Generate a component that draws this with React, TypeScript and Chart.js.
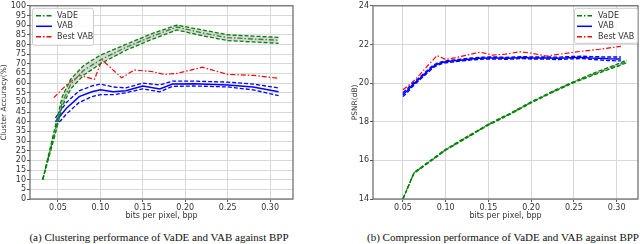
import React, { useEffect, useRef } from 'react';
import { Chart, registerables } from 'chart.js';
Chart.register(...registerables);

// ---------- ticks ----------
const xTicks = [0.05, 0.1, 0.15, 0.2, 0.25, 0.3];
const accTicks = [0, 5, 10, 15, 20, 25, 30, 35, 40, 45, 50, 55, 60, 65, 70, 75, 80, 85, 90, 95, 100];
const psnrTicks = [14, 16, 18, 20, 22, 24];

// ---------- (a) clustering accuracy ----------
const vadeAccX = [0.032, 0.047, 0.055, 0.065, 0.08, 0.1, 0.13, 0.16, 0.19, 0.22, 0.25, 0.28, 0.31];
const vadeAccMean = [10, 36, 50, 59.5, 66.5, 72, 78.5, 84, 89, 86, 83.5, 82.8, 82.2];
const vadeAccUpper = [10, 38, 53, 62, 69, 74.5, 80, 85.5, 90, 87.5, 85, 84.3, 83.7];
const vadeAccLower = [10, 34, 48, 57, 64, 70, 77, 82.5, 87.5, 84.5, 82, 81.3, 80.6];

const vabAccX = [0.047, 0.06, 0.075, 0.09, 0.1, 0.115, 0.13, 0.15, 0.17, 0.185, 0.21, 0.25, 0.28, 0.31];
const vabAccMean = [40, 47, 53, 55.5, 56.5, 55.5, 56, 58.5, 57, 59.5, 59.7, 59, 58, 55.5];
const vabAccUpper = [42, 50, 56, 58.5, 59.5, 58, 57.5, 60, 59, 61, 61, 60.5, 59.5, 57.5];
const vabAccLower = [37.5, 44, 50, 53, 54, 54, 55, 57, 55.5, 58.3, 58.5, 58, 56.5, 53.5];

const bestAccX = [0.045, 0.06, 0.075, 0.093, 0.102, 0.125, 0.14, 0.16, 0.175, 0.19, 0.22, 0.25, 0.28, 0.31];
const bestAccY = [52.5, 59, 64, 62, 72, 62.7, 66.8, 66, 64.5, 65, 68.2, 64.5, 64, 62.5];

// ---------- (b) compression PSNR ----------
const vadePsnrX = [0.05, 0.063, 0.08, 0.1, 0.125, 0.15, 0.175, 0.2, 0.225, 0.25, 0.275, 0.3, 0.312];
const vadePsnrMean = [14, 15.35, 15.9, 16.55, 17.2, 17.85, 18.4, 19.0, 19.55, 20.05, 20.5, 20.9, 21.12];
const vadePsnrUpper = [14, 15.38, 15.93, 16.58, 17.23, 17.88, 18.43, 19.03, 19.58, 20.08, 20.55, 20.97, 21.2];
const vadePsnrLower = [14, 15.32, 15.87, 16.52, 17.17, 17.82, 18.37, 18.97, 19.52, 20.02, 20.45, 20.85, 21.05];

const vabPsnrX = [0.05, 0.055, 0.06, 0.065, 0.07, 0.075, 0.08, 0.085, 0.09, 0.095, 0.1, 0.11, 0.12, 0.13, 0.14, 0.15, 0.16, 0.17, 0.18, 0.19, 0.2, 0.21, 0.22, 0.23, 0.24, 0.25, 0.26, 0.27, 0.28, 0.29, 0.3, 0.305];
const vabPsnrMean = [19.4, 19.6, 19.85, 20.05, 20.25, 20.45, 20.65, 20.85, 20.97, 21.05, 21.1, 21.15, 21.2, 21.25, 21.28, 21.3, 21.3, 21.28, 21.3, 21.32, 21.3, 21.3, 21.3, 21.28, 21.3, 21.32, 21.33, 21.3, 21.28, 21.26, 21.25, 21.25];
const vabPsnrUpper = [19.5, 19.7, 19.93, 20.12, 20.32, 20.52, 20.72, 20.91, 21.03, 21.1, 21.15, 21.2, 21.25, 21.3, 21.33, 21.35, 21.35, 21.33, 21.35, 21.37, 21.35, 21.35, 21.35, 21.34, 21.36, 21.38, 21.39, 21.37, 21.36, 21.35, 21.35, 21.35];
const vabPsnrLower = [19.3, 19.5, 19.77, 19.98, 20.18, 20.38, 20.58, 20.79, 20.91, 21.0, 21.05, 21.1, 21.15, 21.2, 21.23, 21.25, 21.25, 21.23, 21.25, 21.27, 21.25, 21.25, 21.25, 21.22, 21.24, 21.26, 21.27, 21.23, 21.2, 21.17, 21.15, 21.15];

const bestPsnrX = [0.05, 0.06, 0.07, 0.08, 0.09, 0.1, 0.11, 0.125, 0.14, 0.155, 0.17, 0.187, 0.2, 0.218, 0.25, 0.28, 0.305];
const bestPsnrY = [19.65, 20.0, 20.45, 20.95, 21.42, 21.22, 21.3, 21.45, 21.6, 21.45, 21.5, 21.62, 21.55, 21.4, 21.6, 21.75, 21.9];

// ---------- styles ----------
const GREEN = '#008000';
const BLUE = '#0000ff';
const RED = '#ff0000';
const DASH = [4, 2];
const DASHDOT = [5, 2, 1.5, 2];
const TXT = '#333';
const FONT = 'DejaVu Sans';

const pts = (xs: number[], ys: number[]) => xs.map((x, i) => ({ x, y: ys[i] }));

const line = (data: any, color: string, dash: number[], width: number, extra: any = {}) => ({
  data,
  borderColor: color,
  borderDash: dash,
  borderWidth: width,
  pointRadius: 0,
  tension: 0,
  fill: false,
  ...extra,
});

const framePlugin = {
  id: 'frame',
  afterDatasetsDraw(chart: any) {
    const { ctx, chartArea: a } = chart;
    ctx.save();
    ctx.strokeStyle = '#666';
    ctx.lineWidth = 1.2;
    ctx.strokeRect(a.left, a.top, a.right - a.left, a.bottom - a.top);
    ctx.restore();
  },
};

const boxLegendPlugin = {
  id: 'boxLegend',
  afterDraw(chart: any, _args: any, o: any) {
    if (!o || !o.items) return;
    const { ctx, chartArea: a } = chart;
    const x0 = o.align === 'left' ? a.left + o.dx : a.right - o.dx - o.w;
    const y0 = a.top + o.dy;
    ctx.save();
    ctx.fillStyle = 'rgba(255,255,255,0.85)';
    ctx.strokeStyle = '#ccc';
    ctx.lineWidth = 1;
    ctx.beginPath();
    (ctx as any).roundRect(x0 + 0.5, y0 + 0.5, o.w, o.h, 2);
    ctx.fill();
    ctx.stroke();
    ctx.font = `8px "${FONT}"`;
    ctx.textBaseline = 'middle';
    o.items.forEach((it: any, i: number) => {
      const y = y0 + o.firstY + i * o.rowH;
      ctx.strokeStyle = it.color;
      ctx.lineWidth = 1.5;
      ctx.setLineDash(it.dash);
      ctx.beginPath();
      ctx.moveTo(x0 + o.s0, y);
      ctx.lineTo(x0 + o.s1, y);
      ctx.stroke();
      ctx.setLineDash([]);
      ctx.fillStyle = TXT;
      ctx.fillText(it.label, x0 + o.tx, y);
    });
    ctx.restore();
  },
};

const legendItems = [
  { label: 'VaDE', color: GREEN, dash: DASHDOT },
  { label: 'VAB', color: BLUE, dash: [] },
  { label: 'Best VAB', color: RED, dash: DASHDOT },
];

function makeOptions(cfg: any) {
  return {
    responsive: false,
    animation: false,
    devicePixelRatio: 1,
    layout: { padding: { top: 3, right: cfg.padRight, bottom: 0, left: 0 } },
    plugins: {
      legend: { display: false },
      tooltip: { enabled: false },
      boxLegend: cfg.legend,
    },
    scales: {
      x: {
        type: 'linear',
        min: cfg.xMin,
        max: cfg.xMax,
        afterBuildTicks: (s: any) => {
          s.ticks = xTicks.map((v) => ({ value: v }));
        },
        afterFit: (s: any) => {
          s.height = 23;
        },
        ticks: {
          callback: (v: any) => Number(v).toFixed(2),
          font: { family: FONT, size: 8 },
          color: TXT,
          padding: 1,
          maxRotation: 0,
          autoSkip: false,
        },
        grid: { color: '#d8d8d8', lineWidth: 1, tickLength: 3, tickColor: '#555' },
        border: { display: false },
        title: {
          display: true,
          text: 'bits per pixel, bpp',
          font: { family: FONT, size: 8 },
          color: TXT,
          padding: { top: 0, bottom: 1 },
        },
      },
      y: {
        type: 'linear',
        min: cfg.yMin,
        max: cfg.yMax,
        afterBuildTicks: (s: any) => {
          s.ticks = cfg.yTicks.map((v: number) => ({ value: v }));
        },
        afterFit: (s: any) => {
          s.width = cfg.yWidth;
        },
        ticks: {
          font: { family: FONT, size: 8 },
          color: TXT,
          padding: 1,
          autoSkip: false,
        },
        grid: { color: '#d8d8d8', lineWidth: 1, tickLength: 3, tickColor: '#555' },
        border: { display: false },
        title: {
          display: true,
          text: cfg.yTitle,
          font: { family: FONT, size: 7.5 },
          color: TXT,
          padding: cfg.yTitlePad,
        },
      },
    },
  };
}

function ChartBox(props: { left: number; width: number; datasets: any[]; options: any }) {
  const ref = useRef<HTMLCanvasElement>(null);
  useEffect(() => {
    if (!ref.current) return;
    const chart = new Chart(ref.current, {
      type: 'line',
      data: { datasets: props.datasets },
      options: props.options,
      plugins: [framePlugin, boxLegendPlugin],
    } as any);
    return () => chart.destroy();
  }, []);
  return (
    <canvas
      ref={ref}
      width={props.width}
      height={222}
      style={{ position: 'absolute', left: props.left, top: 0, width: props.width, height: 222 }}
    />
  );
}

export default function App() {
  const accSets = [
    line(pts(vadeAccX, vadeAccUpper), GREEN, DASH, 1.3),
    line(pts(vadeAccX, vadeAccLower), GREEN, DASH, 1.3, { fill: '-1', backgroundColor: 'rgba(150,150,150,0.35)' }),
    line(pts(vadeAccX, vadeAccMean), GREEN, DASHDOT, 1.3),
    line(pts(vabAccX, vabAccUpper), BLUE, DASH, 1.3),
    line(pts(vabAccX, vabAccLower), BLUE, DASH, 1.3),
    line(pts(vabAccX, vabAccMean), BLUE, [], 1.5),
    line(pts(bestAccX, bestAccY), RED, DASHDOT, 1.2),
  ];
  const psnrSets = [
    line(pts(vadePsnrX, vadePsnrUpper), GREEN, DASH, 1.2),
    line(pts(vadePsnrX, vadePsnrLower), GREEN, DASH, 1.2, { fill: '-1', backgroundColor: 'rgba(150,150,150,0.35)' }),
    line(pts(vadePsnrX, vadePsnrMean), GREEN, DASHDOT, 1.3),
    line(pts(vabPsnrX, vabPsnrUpper), BLUE, DASH, 1.4),
    line(pts(vabPsnrX, vabPsnrLower), BLUE, DASH, 1.4),
    line(pts(vabPsnrX, vabPsnrMean), BLUE, [], 1.5),
    line(pts(bestPsnrX, bestPsnrY), RED, DASHDOT, 1.2),
  ];
  const accOpts = makeOptions({
    padRight: 7,
    xMin: 0.017,
    xMax: 0.327,
    yMin: 0,
    yMax: 100,
    yTicks: accTicks,
    yWidth: 30,
    yTitle: 'Cluster Accuracy(%)',
    yTitlePad: { top: 0, bottom: 0 },
    legend: { items: legendItems, align: 'left', dx: 2, dy: 2, w: 61, h: 37, firstY: 8, rowH: 10.5, s0: 4, s1: 20, tx: 25 },
  });
  const psnrOpts = makeOptions({
    padRight: 2,
    xMin: 0.015,
    xMax: 0.325,
    yMin: 14,
    yMax: 24,
    yTicks: psnrTicks,
    yWidth: 38,
    yTitle: 'PSNR(dB)',
    yTitlePad: { top: 16, bottom: 0 },
    legend: { items: legendItems, align: 'right', dx: 1, dy: 2, w: 63, h: 35, firstY: 8, rowH: 10.5, s0: 3, s1: 18, tx: 24 },
  });
  const cap: React.CSSProperties = {
    position: 'absolute',
    top: 230,
    fontFamily: '"Liberation Serif", "Times New Roman", serif',
    fontSize: 11,
    lineHeight: '14px',
    whiteSpace: 'nowrap',
    color: '#111',
    transform: 'translateX(-50%)',
  };
  return (
    <div style={{ position: 'fixed', left: 0, top: 0, width: 640, height: 244, background: '#fff', overflow: 'hidden' }}>
      <ChartBox left={0} width={300} datasets={accSets} options={accOpts} />
      <ChartBox left={335} width={305} datasets={psnrSets} options={psnrOpts} />
      <div style={{ ...cap, left: 159 }}>(a) Clustering performance of VaDE and VAB against BPP</div>
      <div style={{ ...cap, left: 503 }}>(b) Compression performance of VaDE and VAB against BPP</div>
    </div>
  );
}
